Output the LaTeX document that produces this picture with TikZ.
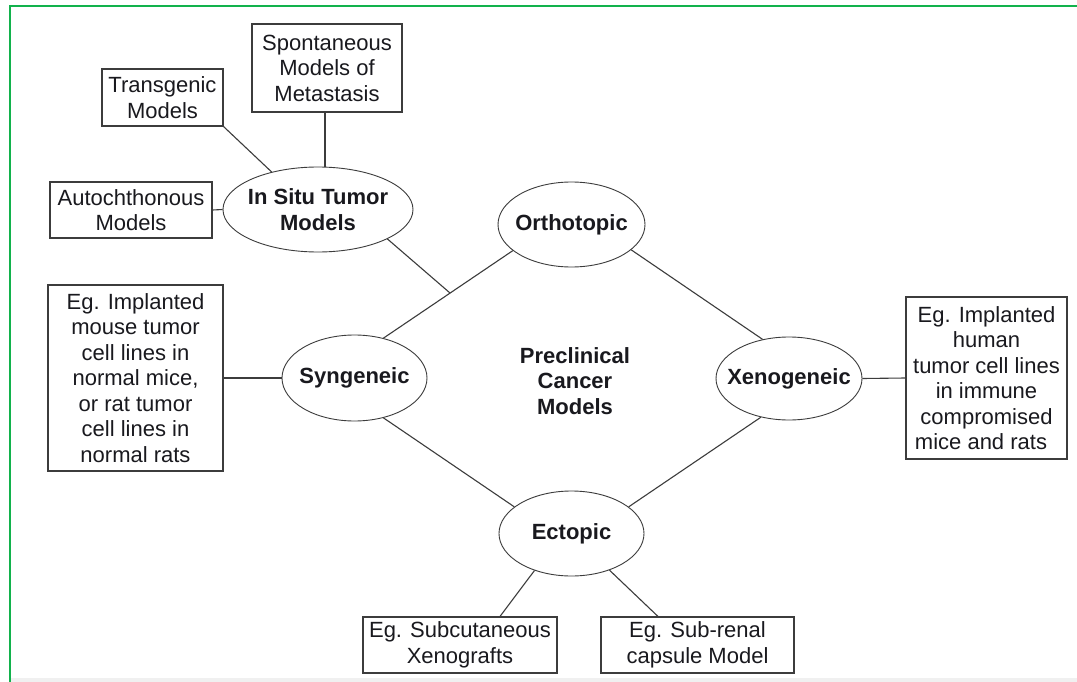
\documentclass[tikz,border=0pt]{standalone}
\usepackage{fontspec}
\setmainfont{Liberation Sans}
\usetikzlibrary{shapes.geometric}
\definecolor{grn}{RGB}{18,178,76}
\definecolor{ln}{RGB}{60,60,60}
\definecolor{txt}{RGB}{25,25,30}
\begin{document}
\begin{tikzpicture}[x=1pt,y=-1pt,
  every node/.style={font=\fontsize{22}{25.5}\selectfont, text=txt},
  box/.style={draw=ln, line width=1.1pt, rectangle, align=center, inner sep=2pt},
  ell/.style={draw=ln, line width=0.9pt, ellipse, align=center, inner xsep=-12pt, inner ysep=0pt,
              font=\fontsize{22}{25.5}\selectfont\bfseries},
  conn/.style={draw=ln, line width=1.1pt}]
\fill[white] (0,0) rectangle (1077,682);
\useasboundingbox (0,0) rectangle (1077,682);
\fill[gray!12] (11,678) rectangle (1077,682);
\draw[grn, line width=2pt] (10,682) -- (10,6.5) -- (1077,6.5);

% ellipses
\node[ell, minimum width=190pt, minimum height=85pt] (insitu) at (318,209.5) {In Situ Tumor\\Models};
\node[ell, minimum width=147pt, minimum height=85pt] (ortho) at (571.5,224.5) {Orthotopic};
\node[ell, minimum width=145pt, minimum height=86pt] (syn) at (354.5,378) {Syngeneic};
\node[ell, minimum width=146pt, minimum height=83pt] (xeno) at (789,378.5) {Xenogeneic};
\node[ell, minimum width=145pt, minimum height=85pt] (ecto) at (571.5,533.5) {Ectopic};
\node[align=center, font=\fontsize{22}{25.5}\selectfont\bfseries] (center) at (575,381) {Preclinical\\Cancer\\Models};

% boxes
\node[box, minimum width=150pt, minimum height=88pt] (spont) at (327,68) {Spontaneous\\Models of\\Metastasis};
\node[box, minimum width=121pt, minimum height=57pt] (trans) at (162.5,97.5) {Transgenic\\Models};
\node[box, minimum width=162pt, minimum height=56pt] (auto) at (131,210) {Autochthonous\\Models};
\node[box, minimum width=175pt, minimum height=186pt] (synbox) at (135.5,378) {Eg. Implanted\\mouse tumor\\cell lines in\\normal mice,\\or rat tumor\\cell lines in\\normal rats};
\node[box, minimum width=161pt, minimum height=162pt] (xenobox) at (986.5,378) {Eg. Implanted\\human\\tumor cell lines\\in immune\\compromised\\mice and rats\rule{11pt}{0pt}};
\node[box, minimum width=194pt, minimum height=56pt] (subcut) at (460,645) {Eg. Subcutaneous\\Xenografts};
\node[box, minimum width=193pt, minimum height=56pt] (subren) at (697.5,645) {Eg. Sub-renal\\capsule Model};

% diamond
\path (ortho.204) -- (syn.54) coordinate[pos=0.485] (j);
\draw[conn] (ortho.204) -- (syn.54);
\draw[conn] (ortho.337) -- (xeno.124);
\draw[conn] (syn.306) -- (ecto.155);
\draw[conn] (xeno.234) -- (ecto.25.6);
\draw[conn] (insitu.337) -- (j);

% spokes
\draw[conn] ([xshift=-2pt]spont.south) -- ([xshift=-2pt]spont.south |- insitu.north);
\draw[conn] (trans.south east) -- (insitu.141);
\draw[conn] (auto.east) -- (insitu.west);
\draw[conn] (synbox.east) -- (syn.west);
\draw[conn] (xeno.east) -- (xenobox.west);
\draw[conn] (ecto.225) -- ([xshift=40pt]subcut.north);
\draw[conn] (ecto.316.5) -- ([xshift=-39.5pt]subren.north);
\end{tikzpicture}
\end{document}
